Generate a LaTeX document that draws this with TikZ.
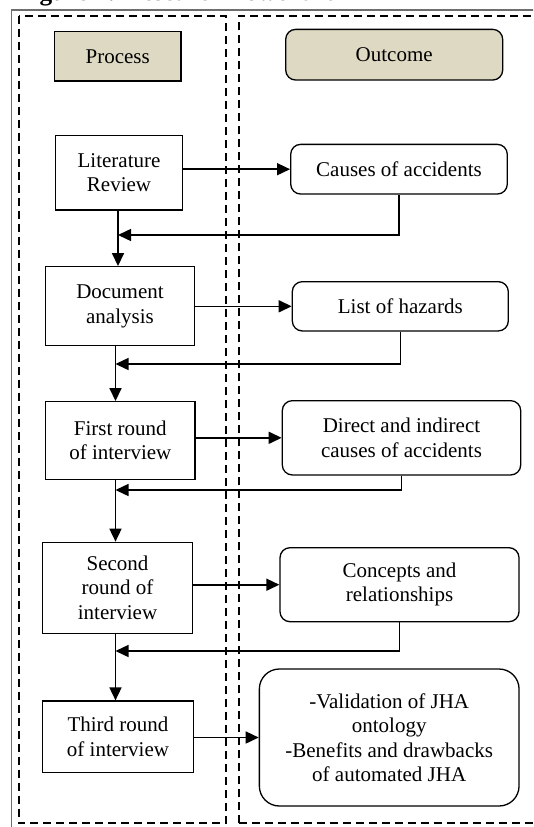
\documentclass[tikz,border=0pt]{standalone}
\usepackage{fontspec}
\setmainfont{Liberation Serif}
\usetikzlibrary{arrows.meta}
\definecolor{tan}{HTML}{DDD9C3}
\definecolor{framegray}{RGB}{110,110,110}
\tikzset{
  every node/.style={font=\fontsize{21pt}{24.4pt}\selectfont, inner sep=0pt, align=center},
  procbox/.style={draw, line width=1.3pt, fill=white, rectangle},
  outbox/.style={draw, line width=1.3pt, fill=white, rounded corners=10pt, rectangle},
  headbox/.style={draw, line width=1.3pt, fill=tan, rectangle},
  lane/.style={draw, line width=1.8pt, dash pattern=on 8pt off 5pt},
  arr/.style={line width=1.6pt, -{Triangle[length=13pt,width=12pt]}},
  ret/.style={line width=1.4pt, -{Triangle[length=13pt,width=12pt]}}
}
\begin{document}
\begin{tikzpicture}[x=1pt,y=-1pt]
\useasboundingbox (0,0) rectangle (533,827);
\clip (0,0) rectangle (533,827);
% cut-off title
\node[anchor=south west, align=left, font=\bfseries\fontsize{25.3pt}{28pt}\selectfont] (title) at (17,6.5) {Figure 1: Research flowchart};
% outer frame and lanes
\draw[framegray, line width=1.2pt] (11.7,10) rectangle (545,840);
\draw[lane] (19,15.7) rectangle (225.7,823.3);
\draw[lane] (238.7,823.3) -- (238.7,15.7) -- (545,15.7);
\draw[lane] (238.7,823.3) -- (545,823.3);
% headers
\node[headbox, minimum width=126.7pt, minimum height=49.3pt] (process) at (117.7,56.3) {Process};
\node[headbox, rounded corners=10pt, minimum width=217pt, minimum height=50.7pt] (outcome) at (394.2,54.7) {Outcome};
% process column
\node[procbox, minimum width=126.6pt, minimum height=74.3pt] (lit) at (119,172.8) {Literature\\Review};
\node[procbox, minimum width=148.6pt, minimum height=79pt] (doc) at (120,306.2) {Document\\analysis};
\node[procbox, minimum width=149.3pt, minimum height=77.6pt] (first) at (120.3,440.5) {First round\\of interview};
\node[procbox, minimum width=149.6pt, minimum height=91pt] (second) at (117.5,587.8) {Second\\round of\\interview};
\node[procbox, minimum width=150.6pt, minimum height=71.3pt] (third) at (118,736.7) {Third round\\of interview};
% outcome column
\node[outbox, minimum width=216.6pt, minimum height=49.7pt] (causes) at (399,169.2) {Causes of accidents};
\node[outbox, minimum width=216pt, minimum height=49.3pt] (hazards) at (400.3,306.3) {List of hazards};
\node[outbox, minimum width=238.4pt, minimum height=74.3pt] (direct) at (401.5,437.8) {Direct and indirect\\causes of accidents};
\node[outbox, minimum width=239pt, minimum height=74pt] (concepts) at (399.5,584.7) {Concepts and\\relationships};
\node[outbox, rounded corners=20pt, minimum width=259.7pt, minimum height=137pt] (valid) at (389.2,737.5) {-Validation of JHA\\ontology\\-Benefits and drawbacks\\of automated JHA};
% process to outcome arrows
\draw[arr] (causes.west -| lit.east) -- (causes.west);
\draw[arr] (hazards.west -| doc.east) -- (hazards.west);
\draw[arr] (direct.west -| first.east) -- (direct.west);
\draw[arr] (concepts.west -| second.east) -- (concepts.west);
\draw[arr] (valid.west -| third.east) -- (valid.west);
% down arrows
\coordinate (c1) at (118,0);
\coordinate (c2) at (115.5,0);
\draw[arr] (lit.south -| c1) -- (doc.north -| c1);
\draw[arr] (doc.south -| c2) -- (first.north -| c2);
\draw[arr] (first.south -| c2) -- (second.north -| c2);
\draw[arr] (second.south -| c2) -- (third.north -| c2);
% return arrows
\coordinate (r1) at (118,235);
\coordinate (r2) at (115.5,364);
\coordinate (r3) at (115.5,490);
\coordinate (r4) at (115.5,651);
\draw[ret] (causes.south) |- (r1);
\draw[ret] (hazards.south) |- (r2);
\draw[ret] (direct.south) |- (r3);
\draw[ret] (concepts.south) |- (r4);
\end{tikzpicture}
\end{document}
